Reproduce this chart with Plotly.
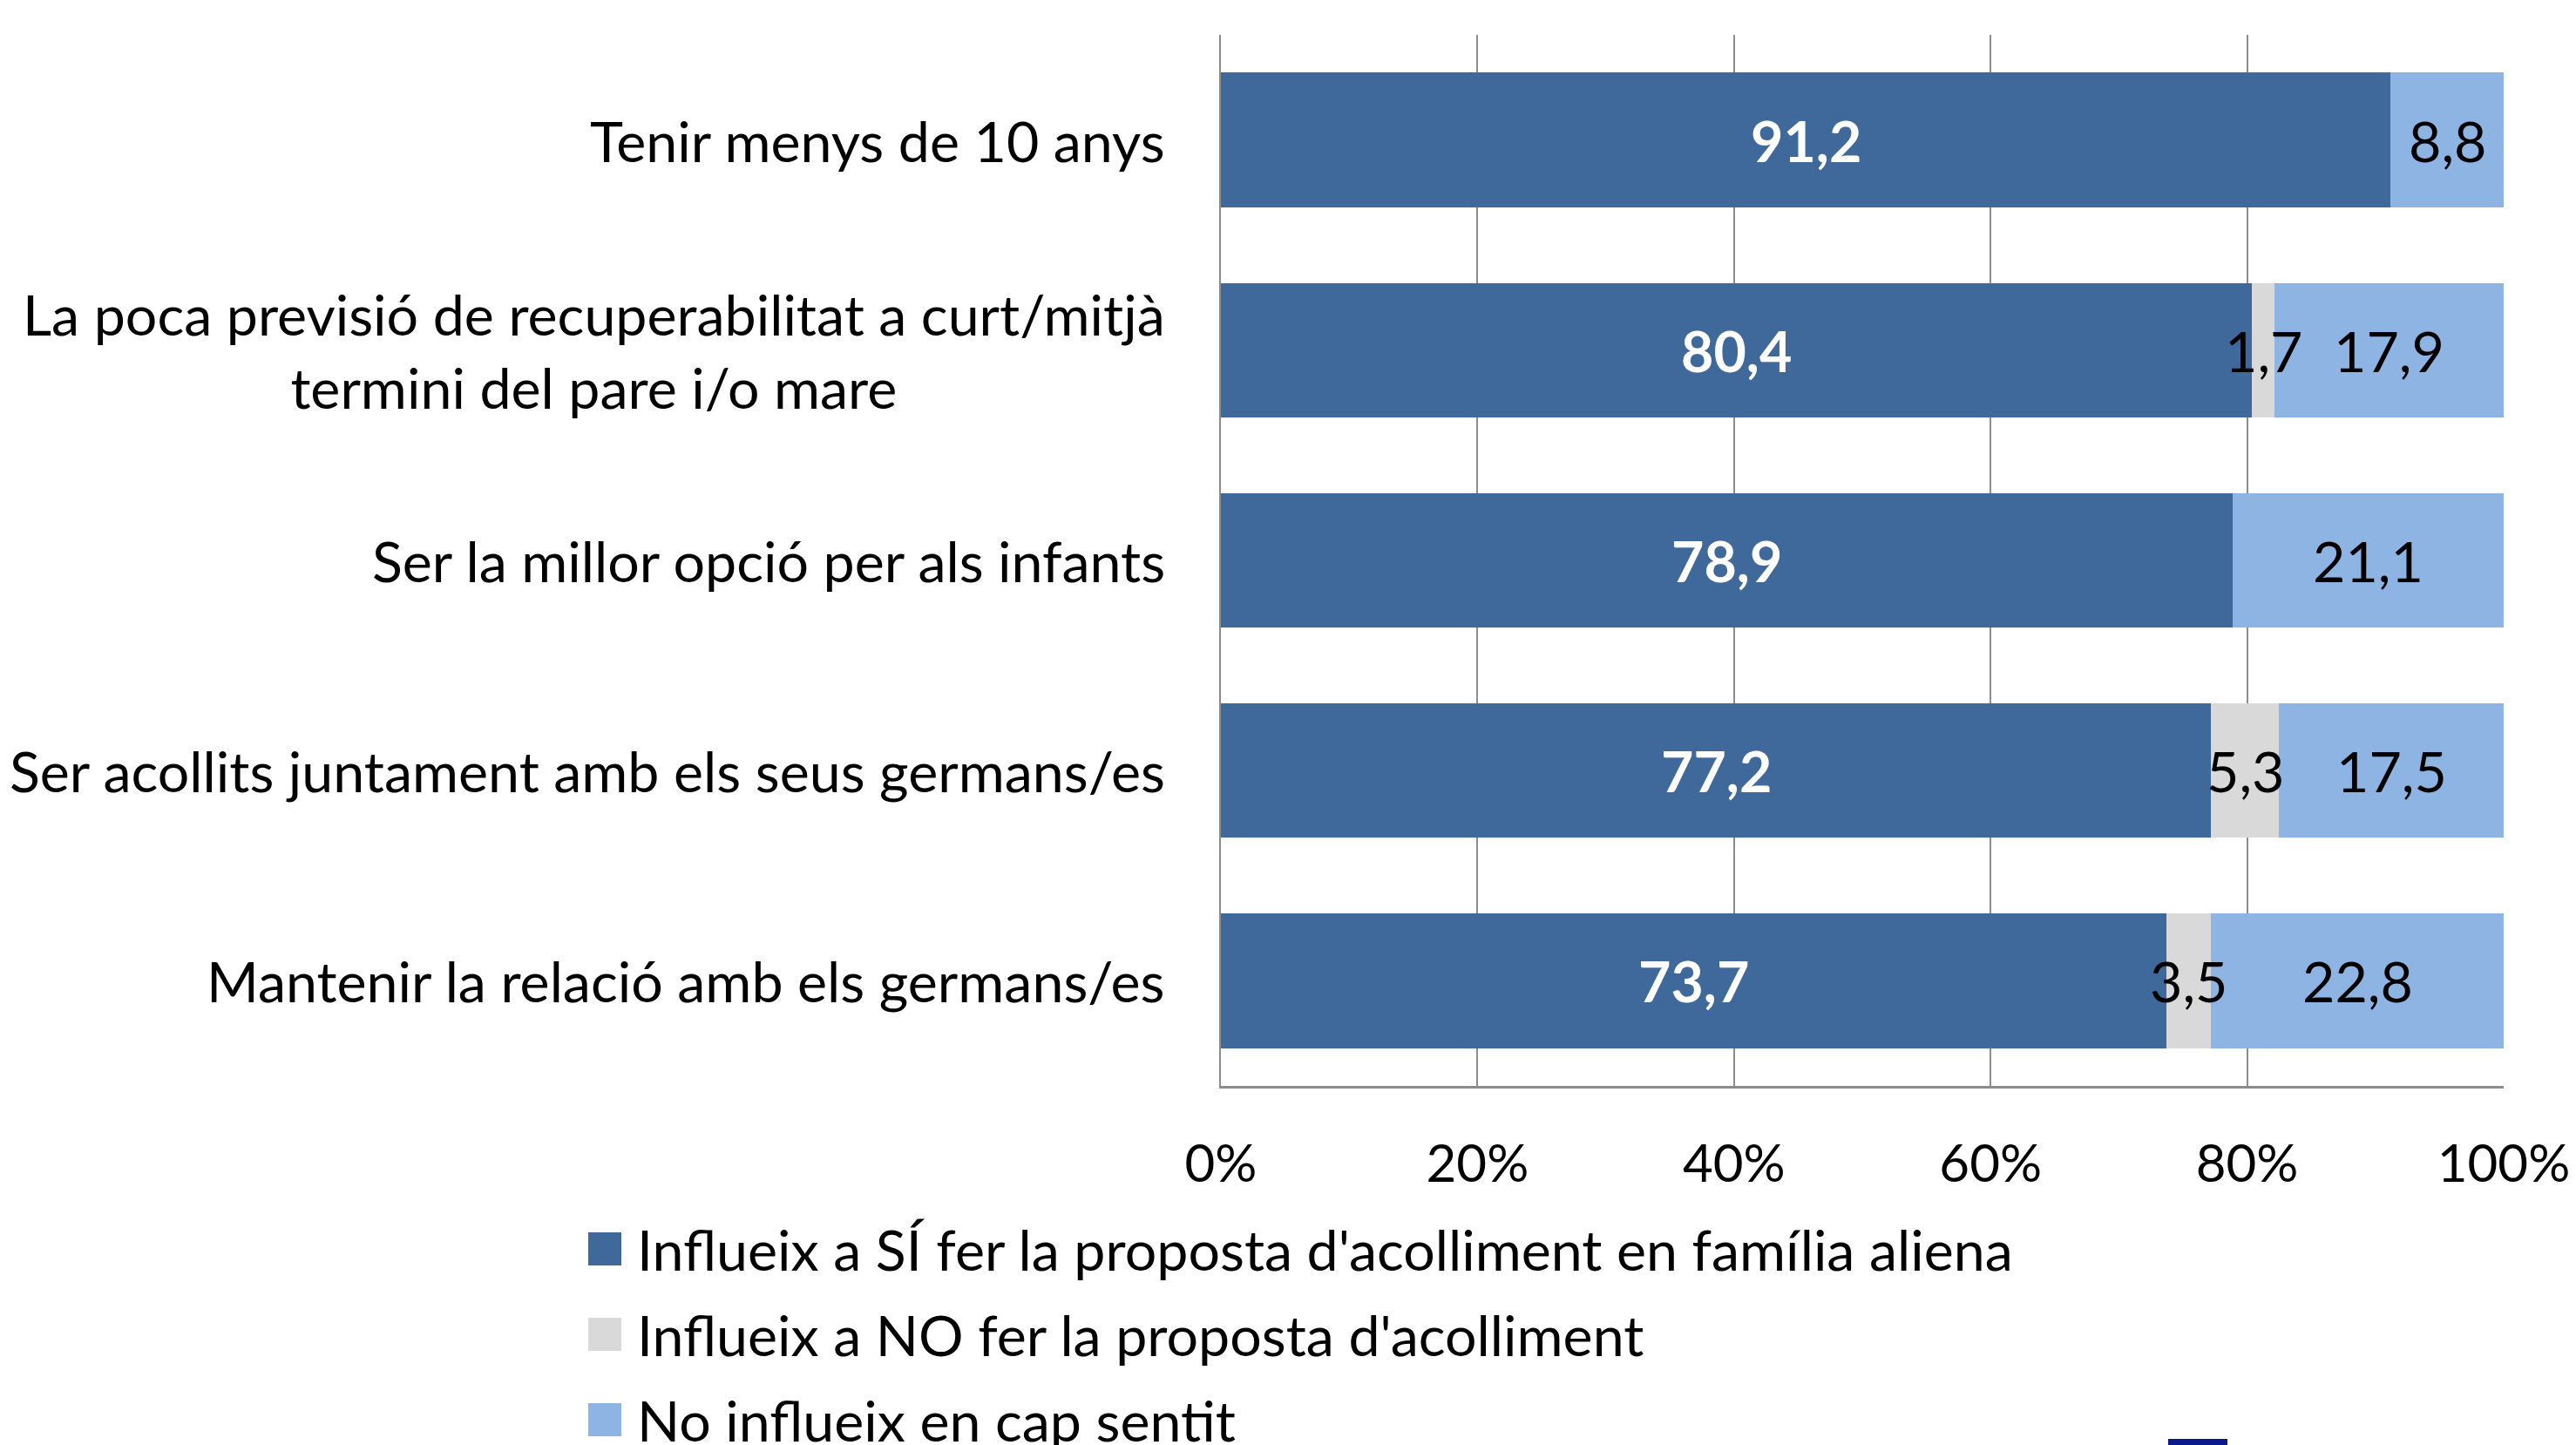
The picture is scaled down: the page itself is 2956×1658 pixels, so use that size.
import plotly.graph_objects as go

categories = [
    "Tenir menys de 10 anys",
    "La poca previsió de recuperabilitat a curt/mitjà<br>termini del pare i/o mare",
    "Ser la millor opció per als infants",
    "Ser acollits juntament amb els seus germans/es",
    "Mantenir la relació amb els germans/es",
]
series_names = [
    "Influeix a SÍ fer la proposta d'acolliment en família aliena",
    "Influeix a NO fer la proposta d'acolliment",
    "No influeix en cap sentit",
]
si_values = [91.2, 80.4, 78.9, 77.2, 73.7]
no_values = [0.0, 1.7, 0.0, 5.3, 3.5]
cap_values = [8.8, 17.9, 21.1, 17.5, 22.8]
tick_values = [0, 20, 40, 60, 80, 100]
tick_labels = ["0%", "20%", "40%", "60%", "80%", "100%"]

colors = ["#3F699B", "#D9D9D9", "#8EB4E3"]
text_colors = ["white", "black", "black"]
FONT = "Lato"
FS = 64.5
TICK_FS = 60

# page body has an 8px margin; positions below are screen pixels
OFF = 8
PLOT_L, PLOT_R, PLOT_T, PLOT_B = 1401, 2873, 40, 1246
PW, PH = PLOT_R - PLOT_L, PLOT_B - PLOT_T
W, H = 2948, 1650


def sx(px):
    return (px - PLOT_L) / PW


def sy(py):
    return (PLOT_B - py) / PH


def fmt(v):
    return "" if v == 0 else f"{v:.1f}".replace(".", ",")


all_series = [si_values, no_values, cap_values]

fig = go.Figure()
for name, vals, col in zip(series_names, all_series, colors):
    fig.add_trace(go.Bar(
        y=categories, x=vals, orientation="h", name=name,
        marker=dict(color=col, line=dict(width=0)),
        showlegend=False, hoverinfo="skip",
    ))

annotations = []

# value labels drawn on top of all bars, centred in each segment
base = [0.0] * len(categories)
for vals, tcol, bold in zip(all_series, text_colors, [True, False, False]):
    for c, b, v in zip(categories, base, vals):
        if v == 0:
            continue
        t = fmt(v)
        annotations.append(dict(
            text=("<b>%s</b>" % t) if bold else t,
            xref="x", yref="y", x=b + v / 2, y=c,
            xanchor="center", yanchor="middle", showarrow=False,
            font=dict(family=FONT, size=FS, color=tcol),
        ))
    base = [b + v for b, v in zip(base, vals)]

for c in categories:
    annotations.append(dict(
        text=c, xref="paper", yref="y", x=0, y=c, xanchor="right", yanchor="middle",
        xshift=-62, align="center", showarrow=False,
        font=dict(family=FONT, size=FS, color="black"),
    ))

shapes = []
legend_rows = [1433, 1531, 1629]
for name, col, yc in zip(series_names, colors, legend_rows):
    shapes.append(dict(
        type="rect", xref="paper", yref="paper",
        x0=sx(675), x1=sx(713), y0=sy(yc + 19), y1=sy(yc - 19),
        fillcolor=col, line=dict(width=0),
    ))
    annotations.append(dict(
        text=name, xref="paper", yref="paper", x=sx(729), y=sy(yc),
        xanchor="left", yanchor="middle", showarrow=False,
        font=dict(family=FONT, size=FS, color="black"),
    ))

# logo fragment at bottom edge
shapes.append(dict(
    type="rect", xref="paper", yref="paper",
    x0=sx(2488), x1=sx(2556), y0=sy(1680), y1=sy(1651),
    fillcolor="#0A1A8C", line=dict(width=0),
))

fig.update_layout(
    barmode="stack", bargap=0.36,
    width=W, height=H,
    margin=dict(l=PLOT_L - OFF, r=W - (PLOT_R - OFF), t=PLOT_T - OFF, b=H - (PLOT_B - OFF),
                autoexpand=False),
    paper_bgcolor="white", plot_bgcolor="white",
    font=dict(family=FONT, size=FS, color="black"),
    annotations=annotations, shapes=shapes,
    xaxis=dict(
        range=[0, 100], tickvals=tick_values, ticktext=tick_labels,
        showgrid=True, gridcolor="#8C8C8C", gridwidth=2,
        showline=True, linecolor="#8C8C8C", linewidth=3,
        zeroline=False, ticks="", ticklabelstandoff=35,
        ticklabeloverflow="allow", automargin=False,
        tickfont=dict(family=FONT, size=TICK_FS, color="black"),
        fixedrange=True,
    ),
    yaxis=dict(
        autorange="reversed", showticklabels=False, automargin=False,
        showline=True, linecolor="#8C8C8C", linewidth=2,
        showgrid=False, zeroline=False, fixedrange=True,
    ),
)

fig.write_html("out.html")
